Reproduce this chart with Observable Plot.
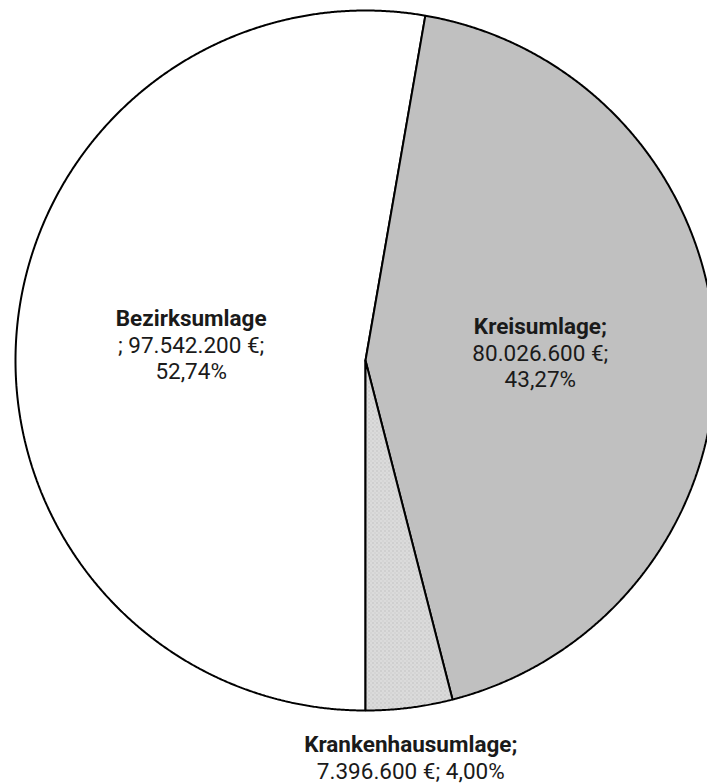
<!DOCTYPE html>
<html><head><meta charset="utf-8">
<script src="https://cdn.jsdelivr.net/npm/d3@7"></script>
<script src="https://cdn.jsdelivr.net/npm/@observablehq/plot@0.6"></script>
<style>body{margin:0;background:#fff}</style>
</head><body><div id="chart"></div>
<script>
const categories = ["Bezirksumlage", "Kreisumlage", "Krankenhausumlage"];
const values = [97542200, 80026600, 7396600];
const labelTitles = ["Bezirksumlage", "Kreisumlage;", "Krankenhausumlage;"];
const labelRest = [["; 97.542.200 €;", "52,74%"], ["80.026.600 €;", "43,27%"], ["7.396.600 €; 4,00%"]];
const fills = ["#ffffff", "#c0c0c0", "url(#dots)"];
const labelRadius = [0.5, 0.5, 1.146];
const labelDx = [0, 0, -5];

const pie = d3.pie().sort(null).value(d => d).startAngle(Math.PI).endAngle(3 * Math.PI)(values);

const slicePts = [];
pie.forEach((p, i) => {
  const n = Math.max(2, Math.ceil((p.endAngle - p.startAngle) / 0.004));
  slicePts.push({key: i, x: 0, y: 0, fill: fills[i]});
  for (let k = 0; k <= n; k++) {
    const a = p.startAngle + (p.endAngle - p.startAngle) * k / n;
    slicePts.push({key: i, x: Math.sin(a), y: Math.cos(a), fill: fills[i]});
  }
  slicePts.push({key: i, x: 0, y: 0, fill: fills[i]});
});

const lineH = 26.5;
const labels = [];
pie.forEach((p, i) => {
  const m = (p.startAngle + p.endAngle) / 2;
  const r = labelRadius[i];
  const lines = [labelTitles[i], ...labelRest[i]];
  lines.forEach((t, j) => {
    labels.push({
      x: Math.sin(m) * r, y: Math.cos(m) * r, text: t, bold: j === 0,
      dy: (j - (lines.length - 1) / 2) * lineH, dx: labelDx[i]
    });
  });
});

const chart = Plot.plot({
  width: 707, height: 784,
  marginTop: 0, marginRight: 0, marginBottom: 0, marginLeft: 0,
  x: {domain: [-1, 1], range: [15, 715], axis: null},
  y: {domain: [-1, 1], range: [710, 10], axis: null},
  color: {type: "identity"},
  style: {fontFamily: "Roboto, sans-serif", fontSize: "22px", background: "white", color: "#1a1a1a"},
  marks: [
    Plot.line(slicePts, {x: "x", y: "y", z: "key", fill: "fill", stroke: "#000", strokeWidth: 2, strokeLinejoin: "miter", curve: "linear"}),
    ...labels.map(l => Plot.text([l], {
      x: "x", y: "y", text: "text", dy: l.dy, dx: l.dx,
      fill: "#1a1a1a", fontWeight: l.bold ? "bold" : "normal", fontSize: 22.5, textAnchor: "middle", lineAnchor: "middle"
    }))
  ]
});

const defs = document.createElementNS("http://www.w3.org/2000/svg", "defs");
defs.innerHTML = `<pattern id="dots" width="4" height="4" patternUnits="userSpaceOnUse">
  <rect width="4" height="4" fill="#cfcfcf"/>
  <rect x="0" y="0" width="1" height="1" fill="#ffffff"/>
  <rect x="2" y="2" width="1" height="1" fill="#ffffff"/>
  <rect x="2" y="0" width="1" height="1" fill="#e6e6e6"/>
</pattern>`;
chart.insertBefore(defs, chart.firstChild);
document.getElementById("chart").appendChild(chart);
</script>
</body></html>
